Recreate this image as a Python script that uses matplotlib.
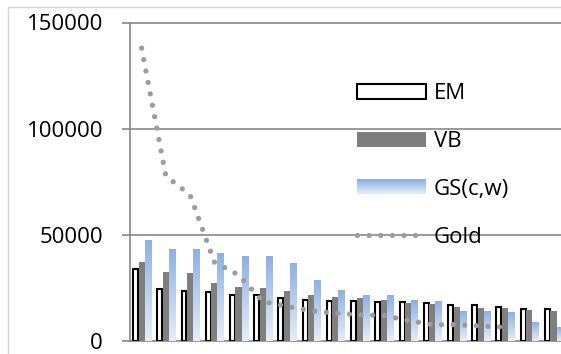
import numpy as np
import matplotlib
matplotlib.use("Agg")
import matplotlib.pyplot as plt
from matplotlib.patches import Rectangle
from matplotlib.lines import Line2D
from matplotlib.legend_handler import HandlerBase
from matplotlib.colors import to_rgb

plt.rcParams['font.family'] = ['Open Sans', 'DejaVu Sans']

# ---- data ----
categories = list(range(1, 19))
em = [33800, 24500, 23400, 23100, 21800, 21600, 20300, 19300, 19000,
      18700, 18400, 18200, 18000, 17000, 16800, 16200, 14900, 14900]
vb = [37400, 32600, 32000, 27300, 25400, 25000, 23600, 21700, 20600,
      20400, 19300, 17900, 17400, 15900, 15400, 15400, 14600, 14100]
gs = [47100, 43300, 43300, 41000, 39600, 39600, 36300, 28700, 24000,
      21200, 21200, 19300, 18800, 13700, 13700, 13200, 8500, 6500]
gold = [137900, 77700, 68800, 37200, 31100, 18600, 16300, 14200, 13100,
        12300, 12000, 9700, 7700, 7700, 7100, 6500]
yticks = [0, 50000, 100000, 150000]

GRAY = "#878787"
VB_COL = "#7f7f7f"
GOLD_COL = "#9c9c9c"
GS_TOP = "#8db0e4"
GS_BOT = "#e6edf8"


def gradient_colors(n):
    top = np.array(to_rgb(GS_TOP))
    bot = np.array(to_rgb(GS_BOT))
    t = np.linspace(0, 1, n)[:, None]
    return bot * (1 - t) + top * t  # bottom -> top


class HandlerGradient(HandlerBase):
    def create_artists(self, legend, orig_handle, xdescent, ydescent,
                       width, height, fontsize, trans):
        n = 20
        cols = gradient_colors(n)
        strips = []
        for i in range(n):
            r = Rectangle((-xdescent, -ydescent + i * height / n), width,
                          height / n + 0.3, facecolor=cols[i], edgecolor="none",
                          transform=trans)
            strips.append(r)
        return strips


W, H = 561, 354
fig = plt.figure(figsize=(W / 100, H / 100), dpi=100)

# outer chart border (cropped at right/bottom)
fig.patches.append(Rectangle((8 / W, -0.1), 1.2, (H - 7) / H + 0.1,
                             transform=fig.transFigure, fill=False,
                             edgecolor="#d4d4d4", lw=1.0))

left, right = 129.5, 565.6
top, bottom = 22.5, 341
ax = fig.add_axes([left / W, (H - bottom) / H, (right - left) / W, (bottom - top) / H])

x = np.arange(len(categories))
bw = 0.25

ax.bar(x - bw, em, width=bw * 0.82, facecolor="white", edgecolor="black",
       linewidth=1.5, zorder=3)
ax.bar(x, vb, width=bw, color=VB_COL, zorder=3)

grad = gradient_colors(64)[::-1][:, None, :]
for xi, h in zip(x, gs):
    ax.imshow(grad, extent=[xi + bw / 2, xi + 1.5 * bw, 0, h], aspect="auto",
              interpolation="bilinear", zorder=3)

ax.plot(x[:len(gold)], gold, color=GOLD_COL, lw=3.8,
        linestyle=(0, (0.001, 2.2)), dash_capstyle="round", zorder=4)

ax.set_xlim(-0.5, len(categories) - 0.5)
ax.set_ylim(0, 150000)
ax.set_yticks(yticks)
ax.set_yticklabels([str(v) for v in yticks])
ax.set_xticks([])

for v in yticks[1:]:
    ax.axhline(v, color=GRAY, lw=1.2, zorder=1, clip_on=False)

for s in ["top", "right"]:
    ax.spines[s].set_visible(False)
for s in ["left", "bottom"]:
    ax.spines[s].set_color(GRAY)
    ax.spines[s].set_linewidth(1.2)
    ax.spines[s].set_zorder(2)

ax.tick_params(axis="y", direction="out", length=5.8, width=1.2, color=GRAY,
               pad=13.3, labelsize=16, labelcolor="black")
ax.patch.set_visible(False)

handles = [
    Rectangle((0, 0), 1, 1, facecolor="white", edgecolor="black", lw=1.5),
    Rectangle((0, 0), 1, 1, facecolor=VB_COL, edgecolor="none"),
    Rectangle((0, 0), 1, 1, facecolor=GS_TOP),
    Line2D([], [], color=GOLD_COL, lw=3.8, linestyle=(0, (0.001, 2.2)),
           dash_capstyle="round"),
]
labels = ["EM", "VB", "GS(c,w)", "Gold"]
leg = fig.legend(handles, labels, loc="upper left",
                 bbox_to_anchor=(357 / W, (H - 83) / H),
                 frameon=False, fontsize=16, handlelength=3.1,
                 handleheight=0.66, handletextpad=0.35, labelspacing=1.21,
                 borderpad=0, borderaxespad=0,
                 handler_map={handles[2]: HandlerGradient()})

fig.savefig("out.png", dpi=100)
